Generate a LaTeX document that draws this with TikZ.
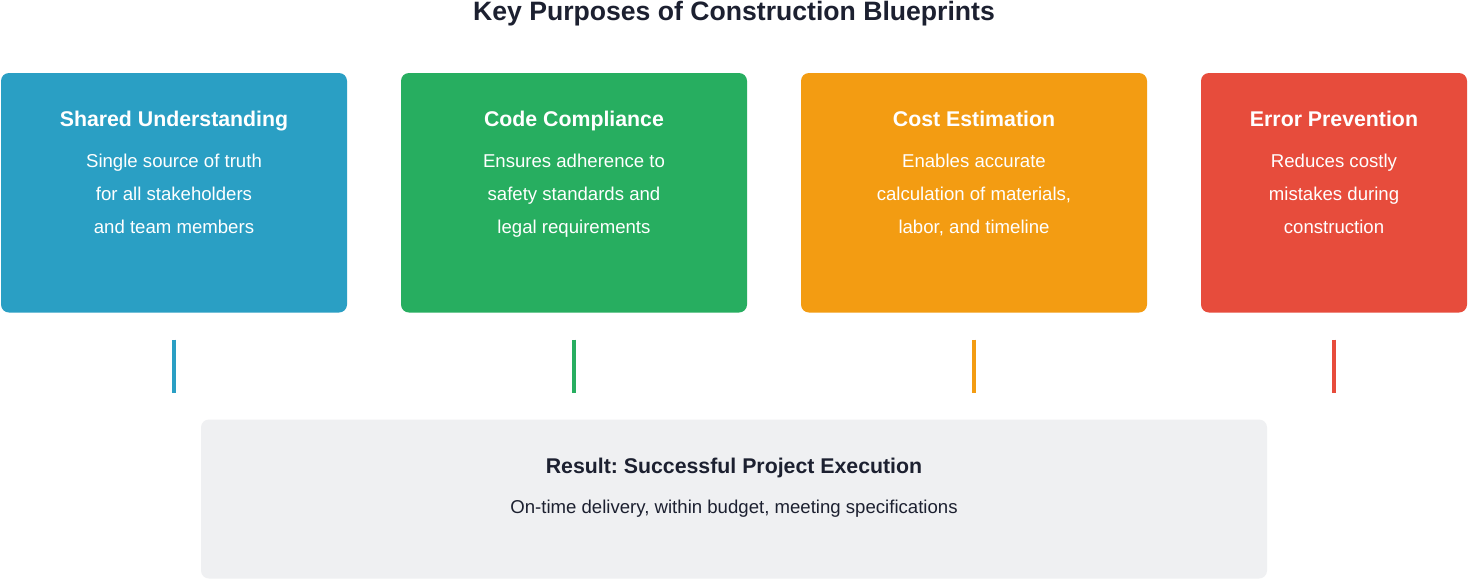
\documentclass[tikz,border=0pt]{standalone}
\usepackage{fontspec}
\setmainfont{Liberation Sans}
\frenchspacing
\definecolor{cblue}{HTML}{2A9FC4}
\definecolor{cgreen}{HTML}{27AE60}
\definecolor{corange}{HTML}{F39C12}
\definecolor{cred}{HTML}{E74C3C}
\definecolor{cgray}{HTML}{EFF0F2}
\definecolor{cdark}{HTML}{1C2030}
\tikzset{
  card/.style={rounded corners=8pt, draw=none},
  cardtitle/.style={anchor=base, text=white, font=\fontsize{21.3}{25}\selectfont\bfseries, inner sep=0pt},
  cardbody/.style={anchor=base, text=white, align=center, font=\fontsize{18.6}{33}\selectfont, inner sep=0pt},
  link/.style={line width=4pt},
}
\begin{document}
\begin{tikzpicture}[x=1pt,y=-1pt]
\useasboundingbox (0,0) rectangle (1468,579);
\fill[white] (0,0) rectangle (1468,579);
% title
\node[anchor=base, text=cdark, font=\fontsize{26.6}{30}\selectfont\bfseries, inner sep=0pt] (title) at (734,20.5) {Key Purposes of Construction Blueprints};
% cards
\fill[card, cblue]   (1,73) rectangle (347,312.5);
\fill[card, cgreen]  (401,73) rectangle (747,312.5);
\fill[card, corange] (801,73) rectangle (1147,312.5);
\fill[card, cred]    (1201,73) rectangle (1467,312.5);
\node[cardtitle] (t1) at (174,126.5) {Shared Understanding};
\node[cardtitle] (t2) at (574,126.5) {Code Compliance};
\node[cardtitle] (t3) at (974,126.5) {Cost Estimation};
\node[cardtitle] (t4) at (1334,126.5) {Error Prevention};
\node[cardbody] (b1) at (174,233) {Single source of truth\\for all stakeholders\\and team members};
\node[cardbody] (b2) at (574,233) {Ensures adherence to\\safety standards and\\legal requirements};
\node[cardbody] (b3) at (974,233) {Enables accurate\\calculation of materials,\\labor, and timeline};
\node[cardbody] (b4) at (1334,233) {Reduces costly\\mistakes during\\construction};
% connectors
\coordinate (u1) at (174,339.5); \coordinate (d1) at (174,392.5);
\coordinate (u2) at (574,339.5); \coordinate (d2) at (574,392.5);
\coordinate (u3) at (974,339.5); \coordinate (d3) at (974,392.5);
\coordinate (u4) at (1334,339.5); \coordinate (d4) at (1334,392.5);
\draw[link, cblue] (u1) -- (d1);
\draw[link, cgreen] (u2) -- (d2);
\draw[link, corange] (u3) -- (d3);
\draw[link, cred] (u4) -- (d4);
% result
\fill[card, cgray] (201,419.5) rectangle (1267,578.5);
\node[anchor=base, text=cdark, font=\fontsize{21.3}{25}\selectfont\bfseries, inner sep=0pt] (rt) at (734,473.3) {Result: Successful Project Execution};
\node[anchor=base, text=cdark, font=\fontsize{18.6}{22}\selectfont, inner sep=0pt] (rb) at (734,513.3) {On-time delivery, within budget, meeting specifications};
\end{tikzpicture}
\end{document}
